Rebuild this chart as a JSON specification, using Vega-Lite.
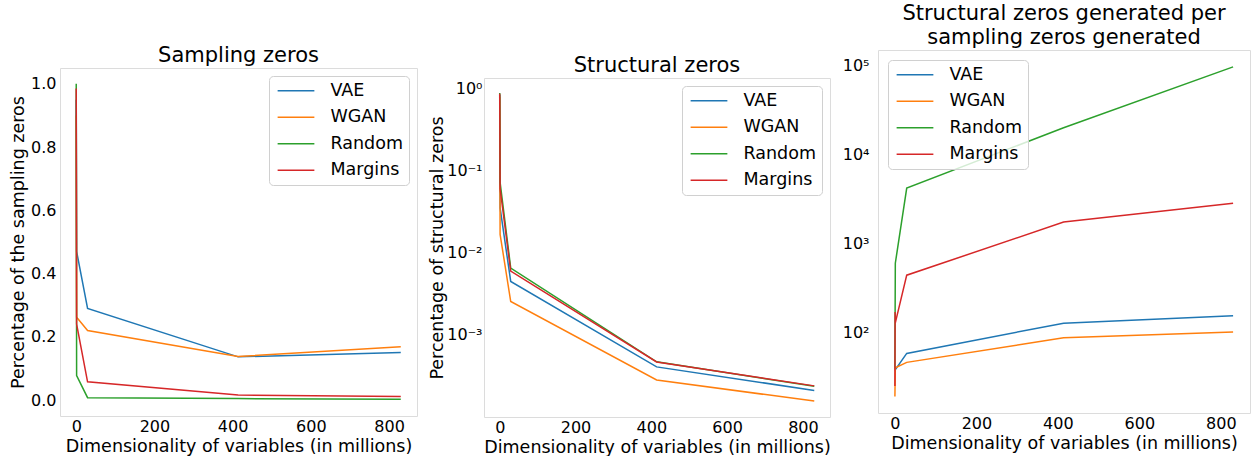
{
  "$schema": "https://vega.github.io/schema/vega-lite/v6.json",
  "padding": {"left": 9, "top": 0, "right": 2, "bottom": 0},
  "config": {
    "font": "DejaVu Sans",
    "view": {"stroke": "#dcdcdc", "strokeWidth": 1},
    "axis": {"grid": false, "domain": false, "ticks": false, "labelFontSize": 16, "titleFontSize": 17.5, "titleFontWeight": "normal", "labelColor": "#000", "titleColor": "#000", "labelPadding": 4, "titlePadding": 3, "labelFont": "DejaVu Sans", "titleFont": "DejaVu Sans"},
    "axisX": {"labelPadding": 2},
    "title": {"fontSize": 21, "fontWeight": "normal", "color": "#000", "offset": 2, "baseline": "alphabetic", "anchor": "middle", "font": "DejaVu Sans", "lineHeight": 24},
    "legend": {"fillColor": "rgba(255,255,255,0.8)", "strokeColor": "#d0d0d0", "cornerRadius": 4, "padding": 6, "symbolType": "M-1,0H5", "symbolSize": 150, "symbolStrokeWidth": 1.5, "labelFontSize": 17.5, "labelOffset": 38, "rowPadding": 7.5, "labelColor": "#000", "labelFont": "DejaVu Sans"},
    "concat": {"spacing": 10}
  },
  "datasets": {
    "sampling": [
      {"model": "VAE", "x": 0, "y": 0.95}, {"model": "VAE", "x": 1, "y": 0.47}, {"model": "VAE", "x": 29, "y": 0.29}, {"model": "VAE", "x": 414, "y": 0.137}, {"model": "VAE", "x": 830, "y": 0.151},
      {"model": "WGAN", "x": 0, "y": 0.9}, {"model": "WGAN", "x": 1, "y": 0.262}, {"model": "WGAN", "x": 29, "y": 0.22}, {"model": "WGAN", "x": 414, "y": 0.138}, {"model": "WGAN", "x": 830, "y": 0.169},
      {"model": "Random", "x": 0, "y": 1.0}, {"model": "Random", "x": 1, "y": 0.078}, {"model": "Random", "x": 29, "y": 0.008}, {"model": "Random", "x": 414, "y": 0.005}, {"model": "Random", "x": 830, "y": 0.003},
      {"model": "Margins", "x": 0, "y": 0.985}, {"model": "Margins", "x": 1, "y": 0.24}, {"model": "Margins", "x": 29, "y": 0.058}, {"model": "Margins", "x": 414, "y": 0.016}, {"model": "Margins", "x": 830, "y": 0.012}
    ],
    "structural": [
      {"model": "VAE", "x": 0, "y": 0.85}, {"model": "VAE", "x": 1, "y": 0.035}, {"model": "VAE", "x": 29, "y": 0.0044}, {"model": "VAE", "x": 414, "y": 0.000396}, {"model": "VAE", "x": 830, "y": 0.000204},
      {"model": "WGAN", "x": 0, "y": 0.8}, {"model": "WGAN", "x": 1, "y": 0.0166}, {"model": "WGAN", "x": 29, "y": 0.0025}, {"model": "WGAN", "x": 414, "y": 0.000274}, {"model": "WGAN", "x": 830, "y": 0.000151},
      {"model": "Random", "x": 0, "y": 0.89}, {"model": "Random", "x": 1, "y": 0.072}, {"model": "Random", "x": 29, "y": 0.0064}, {"model": "Random", "x": 414, "y": 0.000457}, {"model": "Random", "x": 830, "y": 0.000229},
      {"model": "Margins", "x": 0, "y": 0.87}, {"model": "Margins", "x": 1, "y": 0.06}, {"model": "Margins", "x": 29, "y": 0.0059}, {"model": "Margins", "x": 414, "y": 0.000455}, {"model": "Margins", "x": 830, "y": 0.000232}
    ],
    "ratio": [
      {"model": "VAE", "x": 0, "y": 40}, {"model": "VAE", "x": 1, "y": 38}, {"model": "VAE", "x": 29, "y": 58}, {"model": "VAE", "x": 414, "y": 127}, {"model": "VAE", "x": 830, "y": 154},
      {"model": "WGAN", "x": 0, "y": 19}, {"model": "WGAN", "x": 1, "y": 40}, {"model": "WGAN", "x": 29, "y": 46}, {"model": "WGAN", "x": 414, "y": 87}, {"model": "WGAN", "x": 830, "y": 101},
      {"model": "Random", "x": 0, "y": 40}, {"model": "Random", "x": 1, "y": 600}, {"model": "Random", "x": 29, "y": 4200}, {"model": "Random", "x": 414, "y": 20000}, {"model": "Random", "x": 830, "y": 97000},
      {"model": "Margins", "x": 0, "y": 25}, {"model": "Margins", "x": 0.5, "y": 170}, {"model": "Margins", "x": 1, "y": 128}, {"model": "Margins", "x": 29, "y": 440}, {"model": "Margins", "x": 414, "y": 1740}, {"model": "Margins", "x": 830, "y": 2830}
    ]
  },
  "resolve": {"scale": {"color": "independent"}, "legend": {"color": "independent"}},
  "hconcat": [
    {
      "spacing": 0,
      "resolve": {"scale": {"color": "independent"}, "legend": {"color": "independent"}},
      "vconcat": [
        {"width": 357, "height": 44, "data": {"values": []}, "mark": "point", "view": {"stroke": null, "fill": "#ffffff"}},
        {
          "width": 357, "height": 348,
          "title": "Sampling zeros",
          "data": {"name": "sampling"},
          "mark": {"type": "line", "strokeWidth": 1.5},
          "encoding": {
            "x": {"field": "x", "type": "quantitative", "scale": {"domain": [-41.5, 871.5], "nice": false, "zero": false}, "axis": {"values": [0, 200, 400, 600, 800], "title": "Dimensionality of variables (in millions)"}},
            "y": {"field": "y", "type": "quantitative", "scale": {"domain": [-0.05, 1.05], "nice": false, "zero": false}, "axis": {"values": [0, 0.2, 0.4, 0.6, 0.8, 1.0], "format": ".1f", "title": "Percentage of the sampling zeros"}},
            "color": {"field": "model", "type": "nominal", "sort": ["VAE", "WGAN", "Random", "Margins"], "scale": {"domain": ["VAE", "WGAN", "Random", "Margins"], "range": ["#1f77b4", "#ff7f0e", "#2ca02c", "#d62728"]}, "legend": {"orient": "top-right", "offset": 8, "title": null}}
          }
        }
      ]
    },
    {
      "spacing": 0,
      "resolve": {"scale": {"color": "independent"}, "legend": {"color": "independent"}},
      "vconcat": [
        {"width": 346, "height": 54, "data": {"values": []}, "mark": "point", "view": {"stroke": null, "fill": "#ffffff"}},
        {
          "width": 346, "height": 339,
          "title": "Structural zeros",
          "data": {"name": "structural"},
          "mark": {"type": "line", "strokeWidth": 1.5},
          "encoding": {
            "x": {"field": "x", "type": "quantitative", "scale": {"domain": [-41.5, 871.5], "nice": false, "zero": false}, "axis": {"values": [0, 200, 400, 600, 800], "title": "Dimensionality of variables (in millions)"}},
            "y": {"field": "y", "type": "quantitative", "scale": {"type": "log", "domain": [0.0000965, 1.36], "nice": false}, "axis": {"values": [1, 0.1, 0.01, 0.001], "labelPadding": 2, "titlePadding": 0, "labelExpr": "datum.value == 1 ? '10⁰' : datum.value == 0.1 ? '10⁻¹' : datum.value == 0.01 ? '10⁻²' : '10⁻³'", "title": "Percentage of structural zeros"}},
            "color": {"field": "model", "type": "nominal", "sort": ["VAE", "WGAN", "Random", "Margins"], "scale": {"domain": ["VAE", "WGAN", "Random", "Margins"], "range": ["#1f77b4", "#ff7f0e", "#2ca02c", "#d62728"]}, "legend": {"orient": "top-right", "offset": 8, "title": null}}
          }
        }
      ]
    },
    {
      "spacing": 0,
      "resolve": {"scale": {"color": "independent"}, "legend": {"color": "independent"}},
      "vconcat": [
        {"width": 372, "height": 2, "data": {"values": []}, "mark": "point", "view": {"stroke": null, "fill": "#ffffff"}},
        {
          "width": 372, "height": 363,
          "title": ["Structural zeros generated per", "sampling zeros generated"],
          "data": {"name": "ratio"},
          "mark": {"type": "line", "strokeWidth": 1.5},
          "encoding": {
            "x": {"field": "x", "type": "quantitative", "scale": {"domain": [-41.5, 871.5], "nice": false, "zero": false}, "axis": {"values": [0, 200, 400, 600, 800], "title": "Dimensionality of variables (in millions)"}},
            "y": {"field": "y", "type": "quantitative", "scale": {"type": "log", "domain": [12.4, 150000], "nice": false}, "axis": {"values": [100, 1000, 10000, 100000], "labelPadding": 9, "labelExpr": "datum.value == 100 ? '10²' : datum.value == 1000 ? '10³' : datum.value == 10000 ? '10⁴' : '10⁵'", "title": null}},
            "color": {"field": "model", "type": "nominal", "sort": ["VAE", "WGAN", "Random", "Margins"], "scale": {"domain": ["VAE", "WGAN", "Random", "Margins"], "range": ["#1f77b4", "#ff7f0e", "#2ca02c", "#d62728"]}, "legend": {"orient": "top-left", "offset": 10, "title": null}}
          }
        }
      ]
    }
  ]
}
